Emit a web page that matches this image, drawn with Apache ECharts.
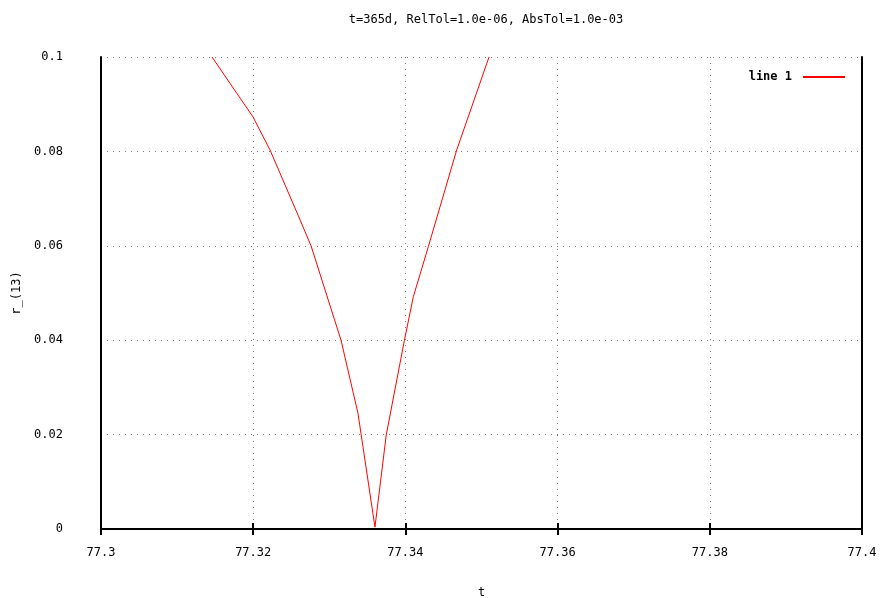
<!DOCTYPE html>
<html>
<head>
<meta charset="utf-8">
<script src="https://cdn.jsdelivr.net/npm/echarts@6/dist/echarts.min.js"></script>
<style>
  html, body { margin: 0; padding: 0; background: #fff; }
  #chart { width: 885px; height: 598px; }
</style>
</head>
<body>
<div id="chart"></div>
<script>
// t values (min dip near 77.336)
const tValues = [77.31459, 77.31997, 77.32221, 77.32589, 77.32760, 77.33154, 77.33377, 77.33600,
  77.33748, 77.33986, 77.34104, 77.34301, 77.34674, 77.35099]
const rValues = [0.1, 0.0873, 0.0803, 0.0665, 0.0600, 0.0400, 0.0245, 0.0004,
  0.0199, 0.0399, 0.0492, 0.0598, 0.0803, 0.1]
const xTicks = [77.3, 77.32, 77.34, 77.36, 77.38, 77.4]
const yTicks = [0, 0.02, 0.04, 0.06, 0.08, 0.1]

const font = 'DejaVu Sans Mono'
const chart = echarts.init(document.getElementById('chart'))

const grid = { left: 101, right: 23, top: 57, bottom: 69, outerBoundsMode: 'none', containLabel: false }
const dotted = { show: true, lineStyle: { type: [1, 5], color: '#777', width: 1 } }

const option = {
  animation: false,
  backgroundColor: '#fff',
  title: {
    text: 't=365d, RelTol=1.0e-06, AbsTol=1.0e-03',
    left: 481, top: 9, textAlign: 'center',
    textStyle: { fontFamily: font, fontSize: 12, fontWeight: 'normal', color: '#000' }
  },
  legend: {
    right: 35, top: 66,
    align: 'right',
    itemWidth: 42, itemHeight: 2, itemGap: 10,
    textStyle: { fontFamily: font, fontSize: 12, color: '#000', fontWeight: 'bold', padding: [0, 6, 0, 0] },
    data: [{ name: 'line 1', icon: 'rect' }]
  },
  grid: grid,
  xAxis: [{
    type: 'value', min: 77.3, max: 77.4, interval: 0.02,
    name: 't', nameLocation: 'middle', nameGap: 58,
    nameTextStyle: { fontFamily: font, fontSize: 12, color: '#000' },
    axisLine: { show: true, lineStyle: { color: '#000', width: 2 } },
    axisTick: { show: true, inside: true, length: 6, lineStyle: { color: '#000', width: 2 } },
    axisLabel: {
      fontFamily: font, fontSize: 12, color: '#000', margin: 18,
      formatter: v => xTicks.find(t => Math.abs(t - v) < 1e-9) !== undefined ? String(+v.toFixed(2)) : ''
    },
    splitLine: dotted
  }, {
    type: 'value', min: 77.3, max: 77.4, interval: 0.02, position: 'top',
    axisLine: { show: true, lineStyle: { color: '#000', width: 2 } },
    axisTick: { show: true, inside: true, length: 6, lineStyle: { color: '#000', width: 2 } },
    axisLabel: { show: false }, splitLine: { show: false }
  }],
  yAxis: [{
    type: 'value', min: 0, max: 0.1, interval: 0.02,
    name: 'r_(13)', nameLocation: 'middle', nameGap: 76, nameRotate: 90,
    nameTextStyle: { fontFamily: font, fontSize: 12, color: '#000' },
    axisLine: { show: true, lineStyle: { color: '#000', width: 2 } },
    axisTick: { show: false },
    axisLabel: {
      fontFamily: font, fontSize: 12, color: '#000', margin: 38,
      formatter: v => yTicks.find(t => Math.abs(t - v) < 1e-9) !== undefined ? String(+v.toFixed(2)) : ''
    },
    splitLine: dotted
  }, {
    type: 'value', min: 0, max: 0.1, interval: 0.02, position: 'right',
    axisLine: { show: true, lineStyle: { color: '#000', width: 2 } },
    axisTick: { show: false }, axisLabel: { show: false }, splitLine: { show: false }
  }],
  series: [{
    name: 'line 1',
    type: 'line',
    data: tValues.map((t, i) => [t, rValues[i]]),
    showSymbol: false,
    clip: true,
    color: '#ff0000',
    lineStyle: { color: '#ff0000', width: 1 }
  }]
}

chart.setOption(option)
</script>
</body>
</html>
